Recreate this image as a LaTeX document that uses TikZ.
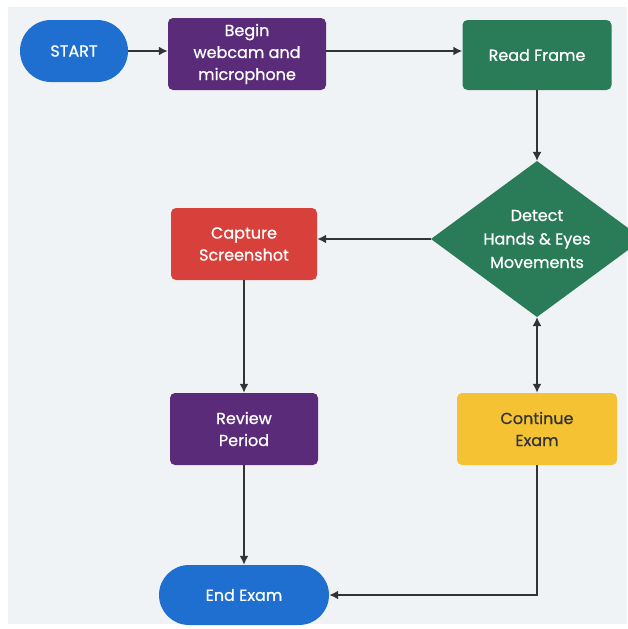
\documentclass[tikz,border=0pt]{standalone}
\usepackage{fontspec}
\setmainfont{Poppins}
\newfontfamily\labfont[FakeBold=0.8]{Poppins}
\usetikzlibrary{shapes.geometric,shapes.misc,arrows.meta}
\definecolor{bgc}{HTML}{F0F3F6}
\definecolor{bluec}{HTML}{1F6FD0}
\definecolor{purplec}{HTML}{5A2B79}
\definecolor{greenc}{HTML}{2A7B57}
\definecolor{redc}{HTML}{D8413B}
\definecolor{yellowc}{HTML}{F4C232}
\definecolor{linec}{HTML}{333333}
\tikzset{
  lab/.style={font=\labfont\fontsize{16}{22}\selectfont},
  box/.style={rectangle, rounded corners=5pt, draw=none, text=white, align=center,
    lab, inner sep=0pt},
  term/.style={rounded rectangle, draw=none, fill=bluec, text=white, align=center,
    lab, inner sep=0pt},
  conn/.style={draw=linec, line width=1.8pt, -{Latex[length=9pt,width=9pt]}},
}
\begin{document}
\begin{tikzpicture}[x=1pt,y=-1pt]
\useasboundingbox (0,0) rectangle (627,629);
\fill[white] (0,0) rectangle (627,629);
\fill[bgc] (8,7) rectangle (627,624);
\node[term, minimum width=108pt, minimum height=62pt] (start) at (74,51) {START};
\node[box, fill=purplec, minimum width=158pt, minimum height=72pt] (begin) at (247,54) {Begin\\webcam and\\microphone};
\node[box, fill=greenc, minimum width=149pt, minimum height=70pt] (read) at (537,55) {Read Frame};
\node[diamond, shape aspect=1.36, fill=greenc, text=white, align=center, font=\labfont\fontsize{16}{23.5}\selectfont,
  minimum width=212pt, minimum height=156pt, inner sep=0pt, outer sep=0pt] (detect) at (537,239) {Detect\\Hands \& Eyes\\Movements};
\node[box, fill=redc, minimum width=146pt, minimum height=72pt] (capture) at (244,244) {Capture\\Screenshot};
\node[box, fill=purplec, minimum width=148pt, minimum height=72pt] (review) at (244,429) {Review\\Period};
\node[box, fill=yellowc, text=black!80, minimum width=160pt, minimum height=72pt] (cont) at (537,429) {Continue\\Exam};
\node[term, minimum width=170pt, minimum height=60pt] (end) at (244,595) {End Exam};
\coordinate (corner) at (537,595);
\draw[conn] (start.east) -- (begin.west |- start.east);
\draw[conn] (begin.east |- start) -- (read.west |- start);
\draw[conn] (read) -- (detect);
\draw[conn] (detect.west) -- (capture.east |- detect.west);
\draw[conn] (capture) -- (review);
\draw[conn] (review) -- (end);
\draw[conn, {Latex[length=9pt,width=9pt]}-{Latex[length=9pt,width=9pt]}] (detect.south) -- (cont.north);
\draw[conn] (cont.south) -- (corner) -- (end.east);
\end{tikzpicture}
\end{document}
